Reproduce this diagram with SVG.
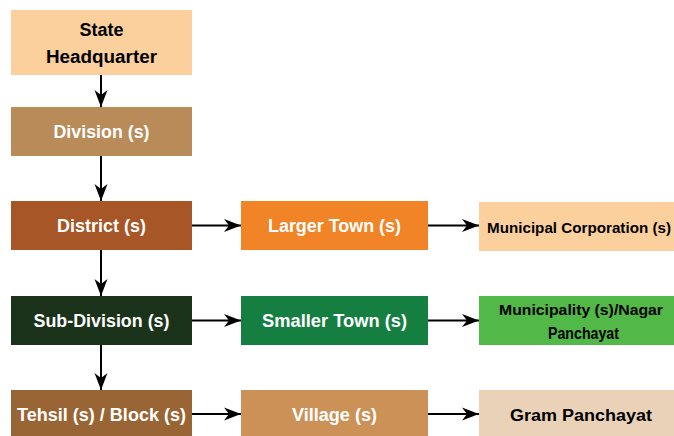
<svg xmlns="http://www.w3.org/2000/svg" width="674" height="436" viewBox="0 0 674 436">
<style>
text{font-family:"Liberation Sans",Arial,sans-serif;font-weight:bold;font-size:18px;text-anchor:middle}
.r{font-size:15px}
.r16{font-size:16px}
.w{fill:#ffffff}
.k{fill:#000000}
.c line{stroke:#000;stroke-width:2;marker-end:url(#ah)}
</style>
<defs>
<marker id="ah" markerUnits="userSpaceOnUse" markerWidth="20" markerHeight="16" viewBox="-17 -8 18 16" refX="0" refY="0" orient="auto">
<path d="M0,0 L-17,-6.5 L-12,0 L-17,6.5 Z" fill="#000"/>
</marker>
</defs>
<rect width="674" height="436" fill="#fff"/>
<g id="state-hq"><rect x="11" y="10" width="181" height="65" fill="#FCD09C"/><text class="k" x="101.5" y="36">State</text><text class="k" x="101.5" y="63" textLength="111" lengthAdjust="spacingAndGlyphs">Headquarter</text></g>
<g id="division"><rect x="11" y="107" width="181" height="49" fill="#B98B58"/><text class="w" x="101.5" y="138" textLength="96" lengthAdjust="spacingAndGlyphs">Division (s)</text></g>
<g id="district"><rect x="11" y="201" width="181" height="49" fill="#A65627"/><text class="w" x="101.5" y="232">District (s)</text></g>
<g id="sub-division"><rect x="11" y="296" width="181" height="49" fill="#1B331A"/><text class="w" x="101.5" y="327" textLength="136" lengthAdjust="spacingAndGlyphs">Sub-Division (s)</text></g>
<g id="tehsil"><rect x="11" y="390" width="181" height="46" fill="#996534"/><text class="w" x="101.5" y="421" textLength="169" lengthAdjust="spacingAndGlyphs">Tehsil (s) / Block (s)</text></g>
<g id="larger-town"><rect x="241" y="201" width="187" height="49" fill="#F18426"/><text class="w" x="334.5" y="232" textLength="133" lengthAdjust="spacingAndGlyphs">Larger Town (s)</text></g>
<g id="smaller-town"><rect x="241" y="296" width="187" height="49" fill="#157F42"/><text class="w" x="334.5" y="327" textLength="145" lengthAdjust="spacingAndGlyphs">Smaller Town (s)</text></g>
<g id="village"><rect x="241" y="390" width="187" height="46" fill="#CC9157"/><text class="w" x="334.5" y="421" textLength="85" lengthAdjust="spacingAndGlyphs">Village (s)</text></g>
<g id="municipal-corporation"><rect x="479" y="202" width="195" height="49" fill="#FCD09C"/><text class="k r" x="579" y="232.5" textLength="184" lengthAdjust="spacingAndGlyphs">Municipal Corporation (s)</text></g>
<g id="municipality"><rect x="479" y="296" width="195" height="49" fill="#52B848"/><text class="k r" x="581" y="315" textLength="164" lengthAdjust="spacingAndGlyphs">Municipality (s)/Nagar</text><text class="k r16" x="583.5" y="339" textLength="71" lengthAdjust="spacingAndGlyphs">Panchayat</text></g>
<g id="gram-panchayat"><rect x="479" y="390" width="195" height="46" fill="#E9D2B8"/><text class="k r16" x="581" y="421" textLength="142" lengthAdjust="spacingAndGlyphs">Gram Panchayat</text></g>
<g class="c" id="connectors">
<line x1="101" y1="75" x2="101" y2="107"/>
<line x1="101" y1="156" x2="101" y2="201"/>
<line x1="101" y1="250" x2="101" y2="296"/>
<line x1="101" y1="345" x2="101" y2="390"/>
<line x1="192" y1="225.5" x2="241" y2="225.5"/>
<line x1="192" y1="320.5" x2="241" y2="320.5"/>
<line x1="192" y1="414" x2="241" y2="414"/>
<line x1="428" y1="225.5" x2="479" y2="225.5"/>
<line x1="428" y1="320.5" x2="479" y2="320.5"/>
<line x1="428" y1="414" x2="479" y2="414"/>
</g>
</svg>
